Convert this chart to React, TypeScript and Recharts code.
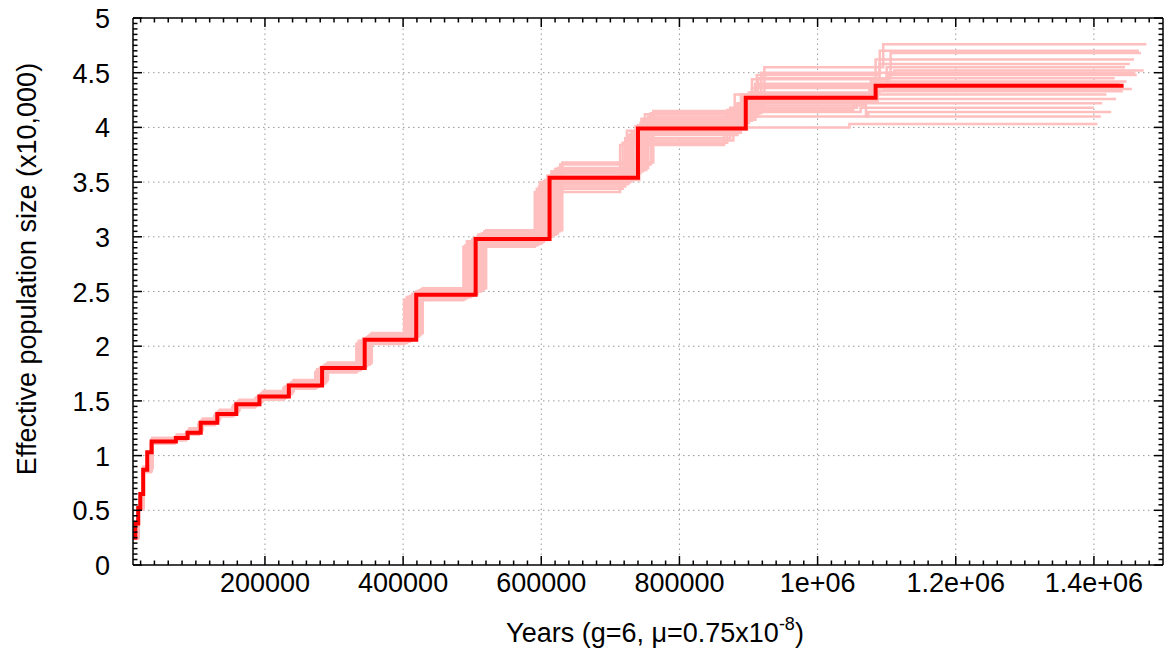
import React from 'react';
import { LineChart, Line, XAxis, YAxis, ReferenceLine, Label } from 'recharts';

const FONT = '"Liberation Sans", Arial, Helvetica, sans-serif';

// PSMC estimate, years in thousands, Ne in units of 10,000
const mainYears = [9.0, 12.3, 16.6, 19.5, 23.8, 29.6, 36, 71, 88, 107, 131, 158.5, 192, 234.6, 282.7, 344.4, 419, 505, 612, 740, 896, 1084, 1443];
const mainNe = [0.25, 0.38, 0.52, 0.65, 0.87, 1.03, 1.13, 1.16, 1.21, 1.3, 1.38, 1.47, 1.54, 1.64, 1.8, 2.06, 2.47, 2.98, 3.54, 3.99, 4.27, 4.38, 4.38];

// bootstrap replicates (pink)
const bootYears = [
  [9.1, 16.0, 23.0, 34.7, 68.5, 84.9, 103.3, 126.4, 153.0, 185.3, 226.4, 272.8, 332.3, 401.4, 487.3, 590.6, 714.1, 864.6, 1046.1, 1405],
  [9.2, 16.2, 23.2, 35.1, 69.2, 85.8, 104.3, 127.7, 154.5, 187.2, 228.7, 275.6, 335.8, 405.6, 492.4, 596.7, 721.5, 873.6, 1056.9, 1412],
  [9.3, 16.4, 23.4, 35.5, 69.9, 86.7, 105.4, 129.0, 156.1, 189.1, 231.1, 278.5, 339.2, 409.8, 497.4, 602.8, 728.9, 882.6, 1067.7, 1418],
  [9.3, 16.4, 23.6, 35.6, 70.3, 87.1, 105.9, 129.7, 156.9, 190.1, 232.3, 279.9, 341.0, 411.8, 500.0, 605.9, 732.6, 887.0, 1073.2, 1425],
  [9.4, 16.5, 23.7, 35.8, 70.6, 87.6, 106.5, 130.3, 157.7, 191.0, 233.4, 281.3, 342.7, 413.9, 502.5, 608.9, 736.3, 891.5, 1078.6, 1447],
  [9.4, 16.7, 23.9, 36.2, 71.4, 88.4, 107.5, 131.7, 159.3, 193.0, 235.8, 284.1, 346.1, 418.1, 507.5, 615.1, 743.7, 900.5, 1089.4, 1452],
  [9.5, 16.8, 24.0, 36.4, 71.7, 88.9, 108.1, 132.3, 160.1, 193.9, 236.9, 285.5, 347.8, 420.2, 510.1, 618.1, 747.4, 905.0, 1094.8, 1455],
  [9.5, 16.8, 24.2, 36.5, 72.1, 89.3, 108.6, 133.0, 160.9, 194.9, 238.1, 286.9, 349.6, 422.2, 512.6, 621.2, 751.1, 909.4, 1100.3, 1462],
  [9.6, 16.9, 24.3, 36.7, 72.4, 89.8, 109.1, 133.6, 161.7, 195.8, 239.3, 288.4, 351.3, 424.3, 515.1, 624.2, 754.8, 913.9, 1105.7, 1468],
  [9.6, 17.0, 24.4, 36.9, 72.8, 90.2, 109.7, 134.3, 162.5, 196.8, 240.5, 289.8, 353.0, 426.4, 517.6, 627.3, 758.5, 918.4, 1111.1, 1472],
  [9.7, 17.1, 24.5, 37.1, 73.1, 90.6, 110.2, 134.9, 163.3, 197.8, 241.6, 291.2, 354.7, 428.5, 520.2, 630.4, 762.2, 922.9, 1095.0, 1476],
  [9.2, 16.3, 23.3, 35.3, 69.6, 86.2, 104.9, 128.4, 155.3, 188.2, 229.9, 277.0, 337.5, 407.7, 494.9, 599.8, 725.2, 878.1, 1062.3, 1400],
  [9.4, 16.6, 23.8, 36.0, 71.0, 88.0, 107.0, 131.0, 158.5, 192.0, 234.6, 282.7, 344.4, 416.0, 505.0, 612.0, 740.0, 896.0, 1084.0, 1458],
  [9.1, 16.1, 23.1, 34.9, 68.9, 85.4, 103.8, 127.1, 153.7, 186.2, 227.6, 274.2, 334.1, 403.5, 489.9, 593.6, 717.8, 869.1, 1051.5, 1432],
  [9.2, 16.2, 23.2, 35.1, 69.2, 85.8, 104.3, 127.7, 154.5, 187.2, 228.7, 275.6, 335.8, 405.6, 492.4, 598, 724, 880, 1075, 1420],
  [9.4, 16.6, 23.8, 36.0, 71.0, 88.0, 107.0, 131.0, 158.5, 192.0, 234.6, 282.7, 344.4, 416, 508, 615, 745, 905, 1100, 1445],
  [9.3, 16.5, 23.6, 35.7, 70.5, 87.4, 106.2, 130.0, 157.3, 190.6, 232.9, 280.6, 341.9, 412.9, 501, 610, 738, 893, 1080, 1437],
  [9.5, 16.7, 24.0, 36.3, 71.6, 88.7, 107.8, 132.0, 159.7, 193.5, 236.4, 284.8, 347.0, 419, 509, 620, 750, 912, 1090, 1465],
  [9.2, 16.3, 23.4, 35.4, 69.8, 86.5, 105.2, 128.8, 155.8, 188.8, 230.6, 277.8, 338.6, 409, 496, 600, 727, 884, 1070, 1410],
  [9.6, 16.9, 24.2, 36.6, 72.2, 89.5, 108.8, 133.2, 161.2, 195.2, 238.6, 287.5, 350.2, 423, 514, 622, 752, 910, 1102, 1460],
  [9.4, 16.6, 23.8, 35.9, 70.8, 87.8, 106.8, 130.7, 158.1, 191.5, 234.0, 282.0, 343.5, 415, 504, 611, 742, 898, 1087, 1442],
  [9.3, 16.4, 23.5, 35.6, 70.2, 87.0, 105.8, 129.5, 156.7, 189.9, 232.0, 279.5, 340.5, 411, 499, 604, 731, 889, 1077, 1430],
];
const bootNe = [
  [0.24, 0.51, 0.85, 1.11, 1.14, 1.19, 1.28, 1.36, 1.44, 1.51, 1.61, 1.76, 2.02, 2.42, 2.91, 3.41, 3.84, 4.0, 4.03, 4.03],
  [0.25, 0.51, 0.86, 1.12, 1.15, 1.2, 1.29, 1.37, 1.45, 1.52, 1.62, 1.78, 2.03, 2.44, 2.93, 3.46, 3.9, 4.18, 4.22, 4.22],
  [0.25, 0.52, 0.86, 1.12, 1.15, 1.2, 1.29, 1.37, 1.46, 1.53, 1.63, 1.79, 2.04, 2.45, 2.95, 3.5, 3.94, 4.2, 4.3, 4.3],
  [0.25, 0.52, 0.87, 1.13, 1.16, 1.21, 1.3, 1.38, 1.47, 1.54, 1.64, 1.8, 2.05, 2.46, 2.97, 3.52, 3.96, 4.1, 4.14, 4.14],
  [0.26, 0.53, 0.88, 1.14, 1.17, 1.22, 1.31, 1.39, 1.48, 1.55, 1.65, 1.81, 2.07, 2.48, 2.99, 3.56, 4.01, 4.28, 4.42, 4.42],
  [0.25, 0.52, 0.87, 1.13, 1.16, 1.21, 1.31, 1.39, 1.48, 1.55, 1.65, 1.81, 2.07, 2.49, 3.0, 3.58, 4.04, 4.32, 4.58, 4.58],
  [0.26, 0.53, 0.88, 1.14, 1.17, 1.22, 1.31, 1.39, 1.49, 1.56, 1.66, 1.82, 2.08, 2.5, 3.01, 3.6, 4.06, 4.36, 4.35, 4.35],
  [0.26, 0.53, 0.88, 1.15, 1.18, 1.23, 1.32, 1.4, 1.49, 1.56, 1.66, 1.83, 2.09, 2.5, 3.02, 3.62, 4.08, 4.4, 4.48, 4.48],
  [0.26, 0.53, 0.89, 1.15, 1.18, 1.23, 1.32, 1.41, 1.5, 1.57, 1.67, 1.83, 2.1, 2.51, 3.03, 3.63, 4.1, 4.45, 4.68, 4.68],
  [0.26, 0.54, 0.89, 1.16, 1.19, 1.24, 1.33, 1.41, 1.5, 1.58, 1.68, 1.84, 2.11, 2.52, 3.05, 3.66, 4.13, 4.5, 4.52, 4.52],
  [0.26, 0.54, 0.9, 1.16, 1.19, 1.25, 1.34, 1.42, 1.51, 1.59, 1.69, 1.85, 2.12, 2.53, 3.06, 3.68, 4.15, 4.55, 4.76, 4.76],
  [0.25, 0.51, 0.86, 1.12, 1.15, 1.2, 1.29, 1.37, 1.46, 1.53, 1.63, 1.79, 2.04, 2.45, 2.94, 3.48, 3.88, 4.14, 4.18, 4.18],
  [0.25, 0.52, 0.87, 1.13, 1.16, 1.21, 1.3, 1.38, 1.47, 1.54, 1.64, 1.8, 2.06, 2.47, 2.99, 3.55, 4.02, 4.3, 4.62, 4.62],
  [0.24, 0.51, 0.85, 1.11, 1.14, 1.19, 1.28, 1.36, 1.45, 1.52, 1.62, 1.77, 2.03, 2.43, 2.92, 3.44, 3.86, 4.16, 4.26, 4.26],
  [0.25, 0.52, 0.86, 1.12, 1.16, 1.2, 1.3, 1.38, 1.46, 1.53, 1.63, 1.79, 2.05, 2.45, 2.96, 3.5, 3.97, 4.3, 4.38, 4.38],
  [0.25, 0.52, 0.87, 1.14, 1.17, 1.22, 1.31, 1.39, 1.48, 1.55, 1.65, 1.81, 2.07, 2.48, 3.0, 3.6, 4.08, 4.44, 4.55, 4.55],
  [0.25, 0.52, 0.87, 1.13, 1.16, 1.21, 1.3, 1.38, 1.47, 1.54, 1.64, 1.8, 2.06, 2.47, 2.98, 3.53, 3.99, 4.26, 4.4, 4.4],
  [0.26, 0.53, 0.88, 1.14, 1.17, 1.22, 1.31, 1.4, 1.48, 1.56, 1.66, 1.82, 2.08, 2.5, 3.02, 3.62, 4.12, 4.48, 4.7, 4.7],
  [0.25, 0.51, 0.86, 1.12, 1.15, 1.2, 1.29, 1.37, 1.46, 1.53, 1.63, 1.78, 2.04, 2.45, 2.94, 3.49, 3.93, 4.22, 4.1, 4.1],
  [0.26, 0.53, 0.89, 1.15, 1.18, 1.23, 1.32, 1.4, 1.49, 1.57, 1.67, 1.83, 2.09, 2.51, 3.03, 3.61, 4.07, 4.38, 4.5, 4.5],
  [0.25, 0.52, 0.87, 1.13, 1.16, 1.21, 1.3, 1.38, 1.47, 1.54, 1.64, 1.8, 2.06, 2.47, 2.97, 3.52, 3.98, 4.24, 4.33, 4.33],
  [0.25, 0.52, 0.87, 1.13, 1.16, 1.21, 1.3, 1.38, 1.47, 1.54, 1.64, 1.8, 2.05, 2.46, 2.96, 3.51, 3.95, 4.3, 4.45, 4.45],
];

const xMajor = [200, 400, 600, 800, 1000, 1200, 1400];
const xTickLabels = ['200000', '400000', '600000', '800000', '1e+06', '1.2e+06', '1.4e+06'];
const yMajor = [0, 0.5, 1, 1.5, 2, 2.5, 3, 3.5, 4, 4.5, 5];
const yTickLabels = ['0', '0.5', '1', '1.5', '2', '2.5', '3', '3.5', '4', '4.5', '5'];

// minor tics every 20000 years / 0.05
const xTicks = Array.from({ length: 74 }, (_, i) => (i + 1) * 20);
const yTicks = Array.from({ length: 101 }, (_, i) => (i * 5) / 100);

const mainData = mainYears.map((t, i) => ({ t, ne: mainNe[i] }));
const bootData = bootYears.map((ys, i) => ys.map((t, j) => ({ t, ne: bootNe[i][j] })));

const MAJOR = 9;
const MINOR = 4.5;
const FS = 27;

const BottomTick = ({ x, y, payload }: any) => {
  const i = xMajor.indexOf(payload.value);
  return (
    <g>
      <line x1={x} x2={x} y1={y} y2={y - (i >= 0 ? MAJOR : MINOR)} stroke="#000" strokeWidth={1.5} />
      {i >= 0 && (
        <text x={x} y={y + 27} textAnchor="middle" fontSize={FS} fontFamily={FONT} fill="#000">
          {xTickLabels[i]}
        </text>
      )}
    </g>
  );
};

const TopTick = ({ x, y, payload }: any) => {
  const len = xMajor.includes(payload.value) ? MAJOR : MINOR;
  return <line x1={x} x2={x} y1={y} y2={y + len} stroke="#000" strokeWidth={1.5} />;
};

const LeftTick = ({ x, y, payload }: any) => {
  const i = yMajor.indexOf(payload.value);
  return (
    <g>
      <line x1={x} x2={x + (i >= 0 ? MAJOR : MINOR)} y1={y} y2={y} stroke="#000" strokeWidth={1.5} />
      {i >= 0 && (
        <text x={x - 23} y={y + 10} textAnchor="end" fontSize={FS} fontFamily={FONT} fill="#000">
          {yTickLabels[i]}
        </text>
      )}
    </g>
  );
};

const RightTick = ({ x, y, payload }: any) => {
  const len = yMajor.includes(payload.value) ? MAJOR : MINOR;
  return <line x1={x} x2={x - len} y1={y} y2={y} stroke="#000" strokeWidth={1.5} />;
};

const XTitle = ({ viewBox }: any) => (
  <text x={viewBox.x + viewBox.width / 2 + 7} y={642} textAnchor="middle" fontSize={FS} fontFamily={FONT} fill="#000">
    <tspan>Years (g=6, μ=0.75x10</tspan>
    <tspan dy={-12} fontSize={18}>-8</tspan>
    <tspan dy={12}>)</tspan>
  </text>
);

const YTitle = () => (
  <text
    x={0}
    y={0}
    transform="translate(36, 269) rotate(-90)"
    textAnchor="middle"
    fontSize={FS}
    fontFamily={FONT}
    fill="#000"
  >
    Effective population size (x10,000)
  </text>
);

export default function App() {
  return (
    <div style={{ position: 'absolute', left: 0, top: 0, background: '#fff' }}>
      <LineChart width={1165} height={651} margin={{ top: 0, right: 0, bottom: 0, left: 0 }}>
        <XAxis
          xAxisId="b"
          dataKey="t"
          type="number"
          domain={[9, 1500]}
          allowDataOverflow
          ticks={xTicks}
          interval={0}
          height={86}
          tickSize={0}
          tickMargin={0}
          tickLine={false}
          tick={<BottomTick />}
          axisLine={{ stroke: '#000', strokeWidth: 1.5 }}
        >
          <Label content={<XTitle />} />
        </XAxis>
        <XAxis
          xAxisId="t"
          orientation="top"
          dataKey="t"
          type="number"
          domain={[9, 1500]}
          allowDataOverflow
          ticks={xTicks}
          interval={0}
          height={18}
          tickSize={0}
          tickMargin={0}
          tickLine={false}
          tick={<TopTick />}
          axisLine={{ stroke: '#000', strokeWidth: 1.5 }}
        />
        <YAxis
          yAxisId="l"
          type="number"
          domain={[0, 5]}
          allowDataOverflow
          ticks={yTicks}
          interval={0}
          width={133}
          tickSize={0}
          tickMargin={0}
          tickLine={false}
          tick={<LeftTick />}
          axisLine={{ stroke: '#000', strokeWidth: 1.5 }}
        >
          <Label content={<YTitle />} />
        </YAxis>
        <YAxis
          yAxisId="r"
          orientation="right"
          type="number"
          domain={[0, 5]}
          allowDataOverflow
          ticks={yTicks}
          interval={0}
          width={2}
          tickSize={0}
          tickMargin={0}
          tickLine={false}
          tick={<RightTick />}
          axisLine={{ stroke: '#000', strokeWidth: 1.5 }}
        />
        {xMajor.map((v) => (
          <ReferenceLine key={'gx' + v} xAxisId="b" yAxisId="l" x={v} stroke="#999" strokeWidth={1} strokeDasharray="1.5 3.5" />
        ))}
        {yMajor.slice(1, -1).map((v) => (
          <ReferenceLine key={'gy' + v} xAxisId="b" yAxisId="l" y={v} stroke="#999" strokeWidth={1} strokeDasharray="1.5 3.5" />
        ))}
        {bootData.map((d, i) => (
          <Line
            key={'boot' + i}
            xAxisId="b"
            yAxisId="l"
            data={d}
            dataKey="ne"
            type="stepAfter"
            stroke="#ffbfbf"
            strokeWidth={2.5}
            dot={false}
            activeDot={false}
            isAnimationActive={false}
          />
        ))}
        <Line
          xAxisId="b"
          yAxisId="l"
          data={mainData}
          dataKey="ne"
          type="stepAfter"
          stroke="#ff0000"
          strokeWidth={4}
          dot={false}
          activeDot={false}
          isAnimationActive={false}
        />
      </LineChart>
    </div>
  );
}
